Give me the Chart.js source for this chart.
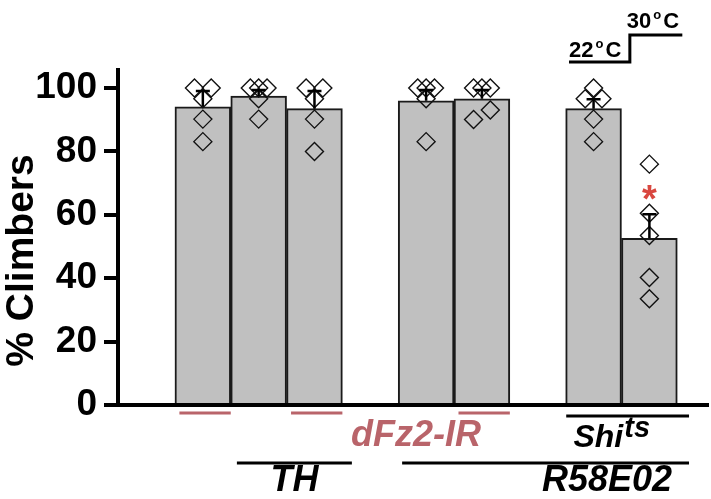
<!DOCTYPE html>
<html>
<head>
<meta charset="utf-8">
<script src="https://cdn.jsdelivr.net/npm/chart.js@4.4.1/dist/chart.umd.min.js"></script>
<style>
  body { margin: 0; background: #fff; }
  #wrap { width: 711px; height: 499px; }
</style>
</head>
<body>
<div id="wrap"><canvas id="climb" width="711" height="499"></canvas></div>
<script>
// bar slots on the x axis (gaps between the three groups)
const barPos = [0, 1, 2, 4, 5, 7, 8];
const means = [94.1, 97.5, 93.5, 96.0, 96.6, 93.5, 52.6];
const sem = [5.0, 1.9, 5.6, 3.4, 2.8, 3.0, 7.6];
const dots = [
    [100, 100, 96.6, 90.2, 83.1],
    [100, 100, 100, 96.6, 90.2],
    [100, 100, 96.6, 90.2, 80.0],
    [100, 100, 100, 96.6, 83.1],
    [100, 100, 100, 93.1, 90.1],
    [100, 96.6, 96.6, 90.2, 83.1],
    [76.0, 60.5, 53.5, 40.2, 33.5]
];
const significant = [false, false, false, false, false, false, true];
const rnaiBars = [0, 2, 4];   // indices of bars carrying dFz2-IR
const yTicks = [0, 20, 40, 60, 80, 100];

const FONT = '"Liberation Sans", Arial, sans-serif';
const RED = '#b9646a';

// spread overlapping dots sideways, like the scatter in the figure
function jitter(vals) {
    const out = vals.map(() => 0);
    const used = vals.map(() => false);
    vals.forEach((v, i) => {
        if (used[i]) return;
        const grp = vals.map((w, j) => j).filter(j => !used[j] && Math.abs(vals[j] - v) < 3.2);
        grp.forEach((j, k) => {
            used[j] = true;
            out[j] = grp.length > 1 ? ((grp.length - 1) / 2 - k) * 0.3 / (grp.length - 1) : 0;
        });
    });
    return out;
}

const barData = barPos.map((p, i) => ({ x: p, y: means[i] }));
const dotData = [];
dots.forEach((vals, i) => {
    const off = jitter(vals);
    vals.forEach((v, j) => dotData.push({ x: barPos[i] + off[j], y: v }));
});

function drawTemp(ctx, big, x, y) {
    ctx.textAlign = 'left';
    ctx.textBaseline = 'alphabetic';
    ctx.font = 'bold 22px ' + FONT;
    ctx.fillText(big, x, y);
    let w = ctx.measureText(big).width + 2;
    ctx.font = 'bold 13px ' + FONT;
    ctx.fillText('o', x + w, y - 9);
    w += ctx.measureText('o').width + 2;
    ctx.font = 'bold 22px ' + FONT;
    ctx.fillText('C', x + w, y);
}

const annotations = {
    id: 'annotations',
    afterDatasetsDraw(chart) {
        const { ctx, scales: { x, y } } = chart;
        ctx.save();
        // error bars (upper half only)
        ctx.strokeStyle = '#000';
        ctx.lineWidth = 2.5;
        barPos.forEach((p, i) => {
            const px = x.getPixelForValue(p);
            const top = y.getPixelForValue(means[i] + sem[i]);
            ctx.beginPath();
            ctx.moveTo(px, y.getPixelForValue(means[i]));
            ctx.lineTo(px, top);
            ctx.moveTo(px - 7, top);
            ctx.lineTo(px + 7, top);
            ctx.stroke();
            if (significant[i]) {
                ctx.fillStyle = '#d9473f';
                ctx.font = 'bold 38px ' + FONT;
                ctx.textAlign = 'center';
                ctx.textBaseline = 'alphabetic';
                ctx.fillText('*', px, top - 2);
            }
        });
        ctx.restore();
    },
    afterDraw(chart) {
        const { ctx, chartArea, scales: { x } } = chart;
        const bottom = chartArea.bottom, top = chartArea.top;
        ctx.save();

        // y title
        ctx.save();
        ctx.translate(33, (top + bottom) / 2 + 23);
        ctx.rotate(-Math.PI / 2);
        ctx.fillStyle = '#000';
        ctx.font = 'bold 39px ' + FONT;
        ctx.textAlign = 'center';
        ctx.textBaseline = 'alphabetic';
        ctx.fillText('% Climbers', 0, 0);
        ctx.restore();

        // temperature shift
        ctx.strokeStyle = '#000';
        ctx.fillStyle = '#000';
        ctx.lineWidth = 3;
        const t1 = x.getPixelForValue(6.56), ts = x.getPixelForValue(7.65), t2 = x.getPixelForValue(8.59);
        ctx.beginPath();
        ctx.moveTo(t1, top - 8);
        ctx.lineTo(ts, top - 8);
        ctx.lineTo(ts, top - 35);
        ctx.lineTo(t2, top - 35);
        ctx.stroke();
        drawTemp(ctx, '22', t1, top - 13);
        drawTemp(ctx, '30', ts - 3, top - 42);

        // dFz2-IR marks
        ctx.strokeStyle = RED;
        ctx.lineWidth = 3;
        rnaiBars.forEach(i => {
            ctx.beginPath();
            ctx.moveTo(x.getPixelForValue(barPos[i] - 0.42), bottom + 8);
            ctx.lineTo(x.getPixelForValue(barPos[i] + 0.5), bottom + 8);
            ctx.stroke();
        });
        ctx.fillStyle = RED;
        ctx.font = 'italic bold 36px ' + FONT;
        ctx.textAlign = 'center';
        ctx.fillText('dFz2-IR', x.getPixelForValue(3.82), bottom + 41);

        // driver lines
        ctx.strokeStyle = '#000';
        ctx.fillStyle = '#000';
        const hline = (a, b, yy) => {
            ctx.beginPath();
            ctx.moveTo(x.getPixelForValue(a), yy);
            ctx.lineTo(x.getPixelForValue(b), yy);
            ctx.stroke();
        };
        hline(0.61, 2.67, bottom + 58);
        hline(3.57, 8.71, bottom + 58);
        hline(6.51, 8.71, bottom + 11);
        ctx.font = 'italic bold 36px ' + FONT;
        ctx.fillText('TH', x.getPixelForValue(1.64), bottom + 86);
        ctx.fillText('R58E02', x.getPixelForValue(7.24), bottom + 86);

        ctx.textAlign = 'left';
        ctx.font = 'italic bold 32px ' + FONT;
        const sx = x.getPixelForValue(6.64);
        ctx.fillText('Shi', sx, bottom + 42);
        const sw = ctx.measureText('Shi').width;
        ctx.font = 'italic bold 29px ' + FONT;
        ctx.fillText('ts', sx + sw + 1, bottom + 32);
        ctx.restore();
    }
};

new Chart(document.getElementById('climb'), {
    type: 'bar',
    data: {
        datasets: [
            {
                type: 'scatter',
                data: dotData,
                pointStyle: 'rectRot',
                pointRadius: 9,
                pointHoverRadius: 9,
                borderColor: '#111',
                borderWidth: 1.4,
                backgroundColor: 'rgba(0,0,0,0)',
                order: 1
            },
            {
                type: 'bar',
                data: barData,
                backgroundColor: '#c0c0c0',
                borderColor: '#1a1a1a',
                borderWidth: 2,
                barPercentage: 1,
                categoryPercentage: 1,
                order: 2
            }
        ]
    },
    options: {
        responsive: false,
        animation: false,
        devicePixelRatio: 1,
        layout: { autoPadding: false, padding: { left: 0, right: 3, top: 70, bottom: 94 } },
        plugins: {
            legend: { display: false },
            tooltip: { enabled: false }
        },
        scales: {
            x: {
                type: 'linear',
                offset: false,
                min: -1.52,
                max: 9.05,
                ticks: { display: false, stepSize: 1, includeBounds: false },
                grid: { drawOnChartArea: false, drawTicks: false, offset: false },
                border: { display: true, width: 4, color: '#000' }
            },
            y: {
                min: 0,
                max: 105.7,
                afterFit: (s) => { s.width = 118; },
                afterBuildTicks: (s) => { s.ticks = yTicks.map(v => ({ value: v })); },
                ticks: {
                    color: '#000',
                    padding: 7,
                    font: { family: FONT, size: 37, weight: 'bold' }
                },
                grid: { drawOnChartArea: false, drawTicks: true, tickLength: 14, lineWidth: 4, color: '#000' },
                border: { display: true, width: 4, color: '#000' }
            }
        }
    },
    plugins: [annotations]
});
</script>
</body>
</html>
